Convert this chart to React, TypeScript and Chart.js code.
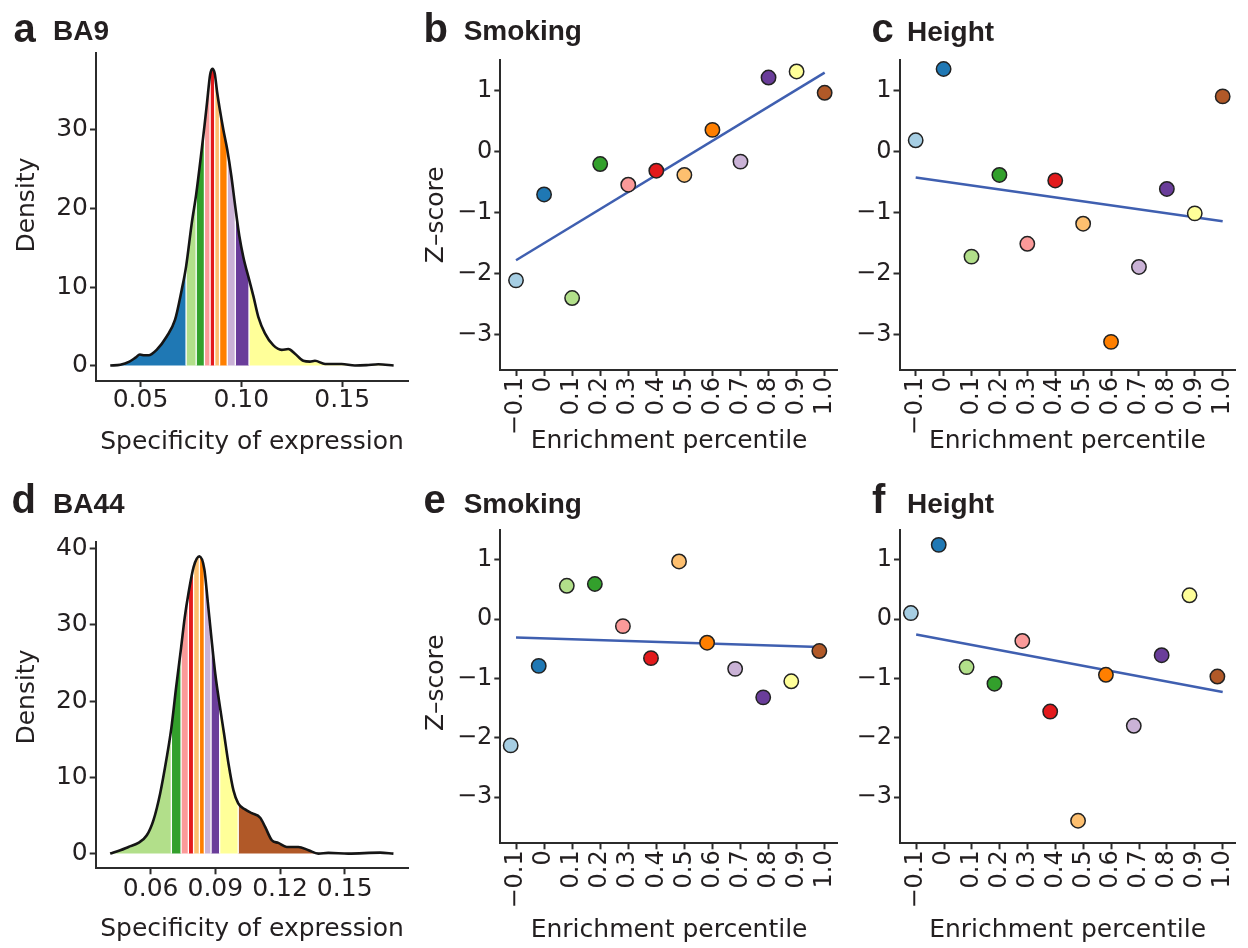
import React, { useEffect, useRef } from "react";
import { Chart, registerables } from "chart.js";

Chart.register(...registerables);

// ---------------- data ----------------
const paired = ["#A6CEE3", "#1F78B4", "#B2DF8A", "#33A02C", "#FB9A99", "#E31A1C", "#FDBF6F", "#FF7F00", "#CAB2D6", "#6A3D9A", "#FFFF99", "#B15928"];

const panelLetters = ["a", "b", "c", "d", "e", "f"];
const panelTitles = ["BA9", "Smoking", "Height", "BA44", "Smoking", "Height"];

const densityTitleX = "Specificity of expression";
const densityTitleY = "Density";
const zTitleX = "Enrichment percentile";
const zTitleY = "Z\u2013score";

// panel a (BA9) density curve
const ba9Spec = [0.035, 0.04, 0.0445, 0.0475, 0.0497, 0.052, 0.054, 0.058, 0.063, 0.0671, 0.0704, 0.0726, 0.0754, 0.0776, 0.0803, 0.0817, 0.083, 0.0845, 0.0856, 0.0868, 0.088, 0.0892, 0.0911, 0.093, 0.095, 0.097, 0.099, 0.101, 0.1038, 0.106, 0.1084, 0.1117, 0.1158, 0.12, 0.1233, 0.1266, 0.1307, 0.134, 0.1365, 0.1415, 0.1497, 0.1563, 0.162, 0.1679, 0.1755];
const ba9Density = [0, 0.1, 0.5, 1.0, 1.4, 1.3, 1.3, 2.0, 3.7, 5.8, 9.6, 12.6, 18.1, 21.8, 27.4, 30.5, 33.5, 37.0, 37.8, 37.2, 34.8, 32.8, 30.0, 27.5, 24.2, 20.2, 16.5, 13.8, 11.0, 8.8, 6.2, 4.1, 2.6, 2.0, 2.1, 1.5, 0.6, 0.5, 0.6, 0.2, 0.2, 0.0, 0.05, 0.17, 0.0];
const ba9Edges = [0.0726, 0.0776, 0.0817, 0.0845, 0.0868, 0.0892, 0.093, 0.097, 0.1038];
const ba9Colors = paired.slice(1, 11);
const ba9XTicks = [0.05, 0.1, 0.15];
const ba9XLabels = ["0.05", "0.10", "0.15"];
const ba9YTicks = [0, 10, 20, 30];
const ba9YLabels = ["0", "10", "20", "30"];

// panel d (BA44) density curve
const ba44Spec = [0.0412, 0.0459, 0.0497, 0.0543, 0.0582, 0.0613, 0.0644, 0.0675, 0.0696, 0.0718, 0.0741, 0.0758, 0.0775, 0.0799, 0.0826, 0.0849, 0.0865, 0.088, 0.09, 0.092, 0.094, 0.0961, 0.0984, 0.1006, 0.1038, 0.1069, 0.1108, 0.1131, 0.1162, 0.1192, 0.1231, 0.1285, 0.1332, 0.1378, 0.1424, 0.1517, 0.1664, 0.1726];
const ba44Density = [0, 0.44, 0.87, 1.4, 2.4, 4.4, 7.9, 12.7, 16.5, 21.8, 27.0, 31.0, 34.1, 37.6, 39.0, 37.3, 33.0, 28.8, 23.5, 19.5, 15.8, 11.8, 8.3, 6.6, 5.8, 5.3, 4.7, 3.5, 1.75, 1.4, 0.87, 0.87, 0.44, 0, 0.09, 0, 0.13, 0];
const ba44Edges = [0.0696, 0.0741, 0.0775, 0.0799, 0.0826, 0.0849, 0.088, 0.092, 0.1006];
const ba44Colors = paired.slice(2, 12);
const ba44XTicks = [0.06, 0.09, 0.12, 0.15];
const ba44XLabels = ["0.06", "0.09", "0.12", "0.15"];
const ba44YTicks = [0, 10, 20, 30, 40];
const ba44YLabels = ["0", "10", "20", "30", "40"];

// scatter panels
const pctTicks = [-0.1, 0, 0.1, 0.2, 0.3, 0.4, 0.5, 0.6, 0.7, 0.8, 0.9, 1.0];
const pctLabels = ["\u22120.1", "0", "0.1", "0.2", "0.3", "0.4", "0.5", "0.6", "0.7", "0.8", "0.9", "1.0"];
const zTicks = [-3, -2, -1, 0, 1];
const zLabels = ["\u22123", "\u22122", "\u22121", "0", "1"];

const pctBA9 = [-0.1, 0, 0.1, 0.2, 0.3, 0.4, 0.5, 0.6, 0.7, 0.8, 0.9, 1.0];
const pctBA44 = [-0.119, -0.019, 0.081, 0.181, 0.281, 0.381, 0.481, 0.581, 0.681, 0.781, 0.881, 0.981];

const smokingBA9 = [-2.11, -0.70, -2.40, -0.20, -0.54, -0.31, -0.38, 0.36, -0.16, 1.22, 1.32, 0.97];
const heightBA9 = [0.19, 1.36, -1.72, -0.38, -1.51, -0.47, -1.18, -3.12, -1.89, -0.61, -1.01, 0.91];
const smokingBA44 = [-2.13, -0.79, 0.56, 0.59, -0.12, -0.66, 0.97, -0.40, -0.84, -1.32, -1.05, -0.54];
const heightBA44 = [0.10, 1.25, -0.81, -1.09, -0.37, -1.56, -3.40, -0.94, -1.80, -0.61, 0.40, -0.97];

const smokingBA9FitX = [-0.1, 1.0];
const smokingBA9FitY = [-1.78, 1.30];
const heightBA9FitX = [-0.1, 1.0];
const heightBA9FitY = [-0.42, -1.14];
const smokingBA44FitX = [-0.1, 0.981];
const smokingBA44FitY = [-0.31, -0.47];
const heightBA44FitX = [-0.1, 1.0];
const heightBA44FitY = [-0.26, -1.23];

// ---------------- styling ----------------
const INK = "#231f20";
const AXIS = "#2b2b2b";
const FIT = "#3f5fb0";
const TEXT_FONT = "DejaVu Sans";
const HEAD_FONT = "Liberation Sans";

function axis(o: any) {
  const horizontal = o.position === "bottom";
  return {
    type: "linear",
    position: o.position,
    min: o.min,
    max: o.max,
    afterBuildTicks: (s: any) => {
      s.ticks = o.ticks.map((v: number) => ({ value: v }));
    },
    afterFit: (s: any) => {
      if (horizontal) s.height = o.size;
      else s.width = o.size;
    },
    ticks: {
      autoSkip: false,
      minRotation: o.rotate ? 90 : 0,
      maxRotation: o.rotate ? 90 : 0,
      padding: o.tickPad,
      color: INK,
      font: { family: TEXT_FONT, size: o.fontSize, lineHeight: 1 },
      callback: (v: number) => {
        const i = o.ticks.findIndex((t: number) => Math.abs(t - v) < 1e-9);
        return i >= 0 ? o.labels[i] : "";
      },
    },
    grid: {
      display: true,
      drawOnChartArea: false,
      drawTicks: true,
      tickLength: 6,
      tickWidth: 2,
      tickColor: AXIS,
      color: AXIS,
    },
    border: { display: true, color: AXIS, width: 2 },
    title: o.title
      ? {
          display: true,
          text: o.title,
          color: INK,
          font: { family: TEXT_FONT, size: 25, lineHeight: 1.2 },
          padding: horizontal ? { top: 0, bottom: o.titlePad } : { top: o.titlePad, bottom: 0 },
        }
      : { display: false },
  };
}

function baseOptions(pad: any, x: any, y: any) {
  return {
    responsive: false,
    animation: false,
    events: [],
    layout: { padding: { top: pad.top, right: pad.right, left: 0, bottom: 0 } },
    plugins: { legend: { display: false }, tooltip: { enabled: false } },
    scales: { x: axis(x), y: axis(y) },
  };
}

function densityConfig(d: any) {
  const pts = d.xs.map((x: number, i: number) => ({ x, y: d.ys[i] }));
  const band = (x: number) => d.edges.filter((e: number) => x >= e - 1e-9).length;
  const seps = d.edges.map((e: number) => {
    const i = d.xs.findIndex((v: number) => Math.abs(v - e) < 1e-9);
    return {
      type: "line",
      data: [{ x: e, y: 0 }, { x: e, y: d.ys[i] }],
      borderColor: "#ffffff",
      borderWidth: 1.3,
      pointRadius: 0,
      fill: false,
      order: 1,
    };
  });
  return {
    type: "line",
    data: {
      datasets: [
        {
          data: pts,
          fill: "origin",
          backgroundColor: d.colors[0],
          borderColor: "rgba(0,0,0,0)",
          borderWidth: 1,
          pointRadius: 0,
          cubicInterpolationMode: "monotone",
          segment: { backgroundColor: (ctx: any) => d.colors[band(ctx.p0.parsed.x)] },
          order: 2,
        },
        ...seps,
        {
          data: pts,
          fill: false,
          borderColor: "#151515",
          borderWidth: 2.6,
          pointRadius: 0,
          cubicInterpolationMode: "monotone",
          borderJoinStyle: "round",
          order: 0,
        },
      ],
    },
    options: baseOptions(d.pad, d.x, d.y),
  };
}

function scatterConfig(s: any) {
  return {
    type: "scatter",
    data: {
      datasets: [
        {
          type: "scatter",
          data: s.xs.map((x: number, i: number) => ({ x, y: s.ys[i] })),
          pointRadius: 7.2,
          pointBackgroundColor: paired,
          backgroundColor: paired,
          pointBorderColor: "#222222",
          borderColor: "#222222",
          pointBorderWidth: 1.5,
          clip: false,
          order: 0,
        },
        {
          type: "line",
          data: s.fitX.map((x: number, i: number) => ({ x, y: s.fitY[i] })),
          borderColor: FIT,
          borderWidth: 2.5,
          pointRadius: 0,
          fill: false,
          order: 1,
        },
      ],
    },
    options: baseOptions(s.pad, s.x, s.y),
  };
}

function Panel({ left, top, width, height, make }: any) {
  const ref = useRef<HTMLCanvasElement>(null);
  useEffect(() => {
    const chart = new Chart(ref.current as HTMLCanvasElement, make() as any);
    return () => chart.destroy();
  }, []);
  return (
    <div style={{ position: "absolute", left, top, width, height }}>
      <canvas ref={ref} width={width} height={height} style={{ display: "block", width, height }} />
    </div>
  );
}

function Head({ left, top, size, text }: any) {
  return (
    <div
      style={{
        position: "absolute",
        left,
        top,
        fontFamily: HEAD_FONT,
        fontWeight: 700,
        fontSize: size,
        lineHeight: `${size}px`,
        color: INK,
        whiteSpace: "nowrap",
      }}
    >
      {text}
    </div>
  );
}

const scatterX = (min: number, max: number) => ({
  position: "bottom", min, max, ticks: pctTicks, labels: pctLabels, rotate: true, fontSize: 24, tickPad: 1,
});

export default function App() {
  return (
    <div style={{ position: "absolute", left: 0, top: 0, width: 1248, height: 948, background: "#fff", overflow: "hidden" }}>
      <Panel
        left={0} top={30} width={420} height={440}
        make={() =>
          densityConfig({
            xs: ba9Spec, ys: ba9Density, edges: ba9Edges, colors: ba9Colors,
            pad: { top: 23, right: 12 },
            x: { position: "bottom", min: 0.02794, max: 0.18262, ticks: ba9XTicks, labels: ba9XLabels, fontSize: 25, tickPad: 1.3, size: 89, title: densityTitleX, titlePad: 12.5 },
            y: { position: "left", min: -1.97, max: 39.8, ticks: ba9YTicks, labels: ba9YLabels, fontSize: 25, tickPad: 2, size: 96, title: "   " + densityTitleY, titlePad: 12.7 },
          })
        }
      />
      <Panel
        left={0} top={515} width={420} height={433}
        make={() =>
          densityConfig({
            xs: ba44Spec, ys: ba44Density, edges: ba44Edges, colors: ba44Colors,
            pad: { top: 26.7, right: 11.7 },
            x: { position: "bottom", min: 0.0345, max: 0.1795, ticks: ba44XTicks, labels: ba44XLabels, fontSize: 25, tickPad: 3, size: 79.7, title: densityTitleX, titlePad: 3.5 },
            y: { position: "left", min: -1.93, max: 40.93, ticks: ba44YTicks, labels: ba44YLabels, fontSize: 25, tickPad: 2, size: 95.7, title: "  " + densityTitleY, titlePad: 12.7 },
          })
        }
      />
      <Panel
        left={410} top={35} width={440} height={430}
        make={() =>
          scatterConfig({
            xs: pctBA9, ys: smokingBA9, fitX: smokingBA9FitX, fitY: smokingBA9FitY,
            pad: { top: 24.5, right: 3 },
            x: { ...scatterX(-0.156, 1.047), size: 95, title: zTitleX, titlePad: 8.8 },
            y: { position: "left", min: -3.582, max: 1.516, ticks: zTicks, labels: zLabels, fontSize: 24, tickPad: 2, size: 90.3, title: zTitleY, titlePad: 11.3 },
          })
        }
      />
      <Panel
        left={830} top={35} width={418} height={430}
        make={() =>
          scatterConfig({
            xs: pctBA9, ys: heightBA9, fitX: heightBA9FitX, fitY: heightBA9FitY,
            pad: { top: 24.5, right: 3 },
            x: { ...scatterX(-0.158, 1.045), size: 95, title: zTitleX, titlePad: 8.8 },
            y: { position: "left", min: -3.582, max: 1.516, ticks: zTicks, labels: zLabels, fontSize: 24, tickPad: 2, size: 69.5 },
          })
        }
      />
      <Panel
        left={410} top={505} width={440} height={443}
        make={() =>
          scatterConfig({
            xs: pctBA44, ys: smokingBA44, fitX: smokingBA44FitX, fitY: smokingBA44FitY,
            pad: { top: 25, right: 3 },
            x: { ...scatterX(-0.156, 1.047), size: 104.7, title: zTitleX, titlePad: 2.5 },
            y: { position: "left", min: -3.78, max: 1.5, ticks: zTicks, labels: zLabels, fontSize: 24, tickPad: 2, size: 90.3, title: " " + zTitleY, titlePad: 11.3 },
          })
        }
      />
      <Panel
        left={830} top={505} width={418} height={443}
        make={() =>
          scatterConfig({
            xs: pctBA44, ys: heightBA44, fitX: heightBA44FitX, fitY: heightBA44FitY,
            pad: { top: 25, right: 1.5 },
            x: { ...scatterX(-0.158, 1.045), size: 104.7, title: zTitleX, titlePad: 2.5 },
            y: { position: "left", min: -3.78, max: 1.5, ticks: zTicks, labels: zLabels, fontSize: 24, tickPad: 2, size: 70 },
          })
        }
      />

      <Head left={13.5} top={7.8} size={40} text={panelLetters[0]} />
      <Head left={53} top={17} size={28} text={panelTitles[0]} />
      <Head left={423.5} top={7.8} size={40} text={panelLetters[1]} />
      <Head left={463.7} top={16.5} size={28} text={panelTitles[1]} />
      <Head left={871.4} top={7.8} size={40} text={panelLetters[2]} />
      <Head left={907} top={17.5} size={28} text={panelTitles[2]} />
      <Head left={11.4} top={479.1} size={40} text={panelLetters[3]} />
      <Head left={53} top={489.6} size={28} text={panelTitles[3]} />
      <Head left={423.4} top={479.1} size={40} text={panelLetters[4]} />
      <Head left={463.7} top={490} size={28} text={panelTitles[4]} />
      <Head left={872} top={479.1} size={40} text={panelLetters[5]} />
      <Head left={907} top={490} size={28} text={panelTitles[5]} />
    </div>
  );
}
